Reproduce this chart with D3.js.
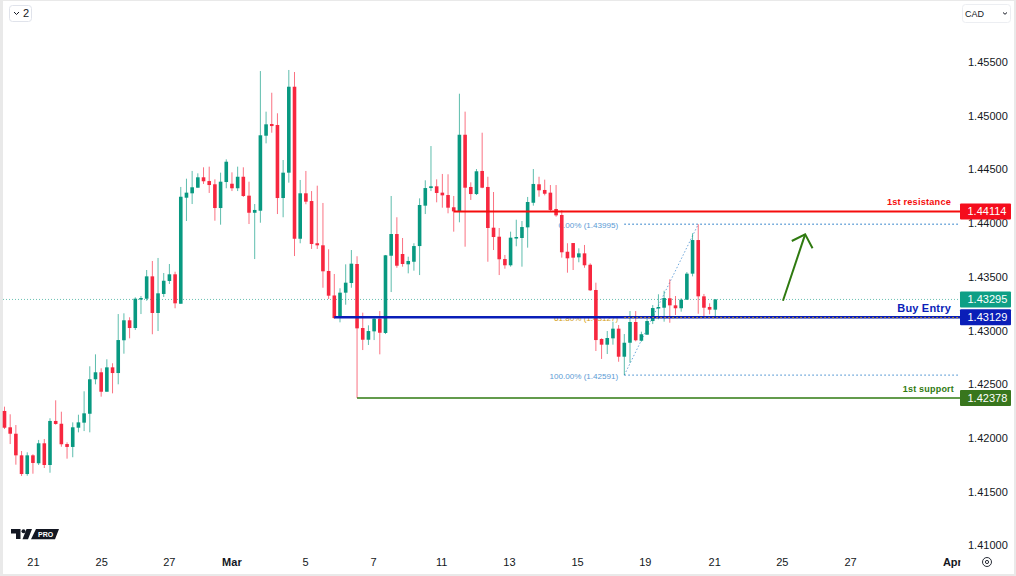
<!DOCTYPE html>
<html><head><meta charset="utf-8">
<script src="https://cdn.jsdelivr.net/npm/d3@7"></script>
<style>
html,body{margin:0;padding:0;background:#fff;overflow:hidden}
svg{display:block}
text{font-family:"Liberation Sans",sans-serif}
</style></head><body>
<svg id="c" width="1016" height="576"></svg>
<script>
const opens=[1.42257,1.42105,1.42045,1.41844,1.41670,1.41844,1.41770,1.41956,1.41754,1.42164,1.42138,1.41949,1.41922,1.42101,1.42148,1.42231,1.42552,1.42617,1.42436,1.42663,
1.42610,1.42915,1.43101,1.43029,1.43299,1.43302,1.43510,1.43169,1.43346,1.43467,1.43529,1.43255,1.44242,1.44283,1.44335,1.44432,1.44397,1.44367,1.44146,1.44388,
1.44372,1.44330,1.44437,1.44261,1.44102,1.44121,1.44819,1.44928,1.44919,1.44239,1.44475,1.45275,1.43860,1.44283,1.44211,1.43818,1.43799,1.43560,1.43332,1.43132,
1.43358,1.43448,1.43625,1.43029,1.42920,1.42998,1.43116,1.42983,1.43702,1.43904,1.43718,1.43622,1.43646,1.43792,1.44168,1.44332,1.44348,1.44289,1.44267,1.44153,
1.44118,1.44828,1.44342,1.44276,1.44491,1.44342,1.43963,1.43879,1.43671,1.43613,1.43870,1.43867,1.43966,1.44195,1.44367,1.44314,1.44289,1.44137,1.44081,1.43739,
1.43820,1.43687,1.43724,1.43618,1.43383,1.42927,1.42874,1.42933,1.43023,1.42762,1.42892,1.43085,1.42911,1.42967,1.43094,1.43215,1.43218,1.43306,1.43240,1.43213,
1.43293,1.43535,1.43848,1.43324,1.43225,1.43200];
const closes=[1.42101,1.42045,1.41844,1.41670,1.41844,1.41773,1.41956,1.41754,1.42164,1.42136,1.41947,1.41922,1.42105,1.42151,1.42235,1.42552,1.42617,1.42436,1.42663,1.42610,
1.42917,1.43101,1.43029,1.43302,1.43308,1.43510,1.43169,1.43352,1.43469,1.43529,1.43259,1.44251,1.44289,1.44339,1.44432,1.44395,1.44360,1.44146,1.44391,1.44577,
1.44330,1.44437,1.44258,1.44102,1.44128,1.44823,1.44925,1.44909,1.44239,1.44475,1.45275,1.43860,1.44283,1.44205,1.43811,1.43799,1.43557,1.43330,1.43122,1.43358,
1.43451,1.43628,1.43026,1.42920,1.43001,1.43116,1.42985,1.43706,1.43904,1.43609,1.43625,1.43653,1.43792,1.44174,1.44332,1.44348,1.44286,1.44264,1.44149,1.44115,
1.44828,1.44335,1.44276,1.44488,1.44335,1.43960,1.43876,1.43669,1.43613,1.43870,1.43876,1.43969,1.44202,1.44370,1.44311,1.44279,1.44128,1.44078,1.43734,1.43678,
1.43684,1.43724,1.43613,1.43380,1.42917,1.42874,1.42936,1.43023,1.42762,1.42892,1.43085,1.42915,1.42971,1.43094,1.43215,1.43225,1.43308,1.43240,1.43213,1.43293,
1.43535,1.43848,1.43324,1.43218,1.43200,1.43295];
const highs=[1.42297,1.42226,1.42126,1.41884,1.41872,1.41854,1.41987,1.41996,1.42189,1.42356,1.42250,1.41965,1.42151,1.42222,1.42440,1.42673,1.42784,1.42654,1.42738,1.42701,
1.43159,1.43166,1.43129,1.43315,1.43327,1.43569,1.43653,1.43681,1.43541,1.43625,1.43553,1.44342,1.44419,1.44491,1.44469,1.44525,1.44531,1.44413,1.44475,1.44599,
1.44478,1.44531,1.44525,1.44391,1.44183,1.45421,1.45043,1.45219,1.45028,1.44593,1.45431,1.45412,1.44407,1.44491,1.44304,1.44354,1.44193,1.43762,1.43532,1.43399,
1.43622,1.43755,1.43697,1.43172,1.43054,1.43129,1.43187,1.43709,1.44258,1.44060,1.43867,1.43693,1.43818,1.44236,1.44404,1.44723,1.44413,1.44463,1.44460,1.44258,
1.45210,1.45043,1.44385,1.44509,1.44847,1.44437,1.44295,1.43960,1.43709,1.43926,1.44037,1.44025,1.44249,1.44509,1.44437,1.44410,1.44360,1.44360,1.44125,1.43818,
1.43820,1.43771,1.43802,1.43631,1.43451,1.42933,1.43001,1.43088,1.43057,1.42973,1.43187,1.43187,1.42995,1.43119,1.43243,1.43343,1.43376,1.43482,1.43327,1.43306,
1.43550,1.43911,1.43995,1.43346,1.43259,1.43299];
const lows=[1.42089,1.41949,1.41757,1.41652,1.41654,1.41673,1.41754,1.41726,1.41682,1.42129,1.41924,1.41813,1.41826,1.42058,1.42070,1.42058,1.42505,1.42390,1.42436,1.42421,
1.42505,1.42790,1.42933,1.43011,1.43159,1.43283,1.42971,1.43001,1.43318,1.43439,1.43213,1.43255,1.44025,1.44183,1.44335,1.44370,1.44286,1.44028,1.43991,1.44330,
1.44304,1.44304,1.44249,1.43997,1.43671,1.44009,1.44748,1.44847,1.44090,1.44060,1.44382,1.43699,1.43818,1.44181,1.43765,1.43765,1.43404,1.43299,1.43113,1.43082,
1.43246,1.43404,1.42378,1.42824,1.42871,1.42917,1.42784,1.42973,1.43364,1.43590,1.43600,1.43538,1.43563,1.43522,1.44090,1.44304,1.44199,1.44149,1.44097,1.43926,
1.44013,1.43786,1.44221,1.44267,1.44330,1.43646,1.43755,1.43522,1.43581,1.43600,1.43790,1.43600,1.43777,1.44168,1.44251,1.44264,1.44118,1.44065,1.43684,1.43544,
1.43569,1.43641,1.43590,1.43374,1.42815,1.42741,1.42787,1.42874,1.42715,1.42591,1.42706,1.42905,1.42902,1.42967,1.43066,1.43110,1.43088,1.43078,1.43150,1.43181,
1.43290,1.43510,1.43162,1.43134,1.43157,1.43134];

const priceTicks=[1.41,1.415,1.42,1.425,1.43,1.435,1.44,1.445,1.45,1.455];
const dateTickIndex=[5,17,28.9,39.9,52.85,64.8,76.8,88.7,100.7,112.6,124.8,136.7,148.7,166.6];
const dateTickLabels=["21","25","27","Mar","5","7","11","13","15","19","21","25","27","Apr"];

const lastPrice=1.43295;
const levels=[
 {name:"1st resistance",price:1.44114,from:79,color:"#f50d0d",width:2,size:9.2,end:951},
 {name:"Buy Entry",price:1.43129,from:58,color:"#0a1eb8",width:2.5,size:11,end:951},
 {name:"1st support",price:1.42378,from:62,color:"#2f7a10",width:1.5,size:9,end:954}];
const fibStart=[109,1.42591], fibEnd=[122,1.43995];
const fibLevels=[
 {label:"0.00% (1.43995)",price:1.43995,color:"#5b9bd5"},
 {label:"61.80% (1.43127)",price:1.43127,color:"#d4a017"},
 {label:"100.00% (1.42591)",price:1.42591,color:"#5b9bd5"}];
const arrowShaft=[[136.9,1.43283],[140.8,1.43901]];
const arrowHead=[[138.45,1.43839],[140.8,1.43901],[142.1,1.43771]];

const svg=d3.select("#c");
const paneRight=960;
const x=d3.scaleLinear().domain([0,125]).range([4.5,715.3]);
const y=d3.scaleLinear().domain([1.41,1.455]).range([546,62.56]);

// chrome
svg.append("rect").attr("width",1016).attr("height",576).attr("fill","#fff");
svg.append("rect").attr("x",0).attr("y",0).attr("width",3).attr("height",576).attr("fill","#e9e9e9");
svg.append("rect").attr("x",1014).attr("y",0).attr("width",2).attr("height",576).attr("fill","#e9e9e9");
svg.append("rect").attr("x",0).attr("y",574).attr("width",1016).attr("height",2).attr("fill","#e9e9e9");
svg.append("rect").attr("x",0).attr("y",0).attr("width",1016).attr("height",1).attr("fill","#e9e9e9");
svg.append("clipPath").attr("id","pane").append("rect").attr("x",0).attr("y",540).attr("width",960.5).attr("height",36);

// last price line
svg.append("line").attr("x1",3).attr("x2",paneRight).attr("y1",y(lastPrice)).attr("y2",y(lastPrice))
 .attr("stroke","#089981").attr("stroke-opacity",.6).attr("stroke-width",1).attr("stroke-dasharray","1 2");

// fib labels + lines below candles
const fibG=svg.append("g");
fibG.selectAll("line").data(fibLevels).join("line")
 .attr("x1",x(fibStart[0])).attr("x2",paneRight)
 .attr("y1",d=>y(d.price)).attr("y2",d=>y(d.price))
 .attr("stroke",d=>d.color).attr("stroke-width",1.4).attr("stroke-dasharray","1.5 2.5");
fibG.selectAll("text").data(fibLevels).join("text")
 .attr("x",x(fibStart[0])-6).attr("y",d=>y(d.price)+3.5)
 .attr("text-anchor","end").attr("font-size",8.1).attr("fill",d=>d.color).text(d=>d.label);
fibG.append("line").attr("x1",x(fibStart[0])).attr("y1",y(fibStart[1])).attr("x2",x(fibEnd[0])).attr("y2",y(fibEnd[1]))
 .attr("stroke","#6fa8dc").attr("stroke-width",1).attr("stroke-dasharray","1.5 2");

// candles
const idx=d3.range(opens.length);
const colorOf=i=>closes[i]>=opens[i]?"#089981":"#f7273f";
const g=svg.append("g");
g.selectAll("line.w").data(idx).join("line").attr("class","w")
 .attr("x1",i=>x(i)).attr("x2",i=>x(i)).attr("y1",i=>y(highs[i])).attr("y2",i=>y(lows[i]))
 .attr("stroke",colorOf).attr("stroke-opacity",.65).attr("stroke-width",1);
g.selectAll("rect").data(idx).join("rect")
 .attr("x",i=>x(i)-1.8).attr("width",3.6)
 .attr("y",i=>y(Math.max(opens[i],closes[i])))
 .attr("height",i=>Math.max(1.5,Math.abs(y(opens[i])-y(closes[i]))))
 .attr("fill",colorOf);

// levels
const lv=svg.append("g");
lv.selectAll("line").data(levels).join("line")
 .attr("x1",d=>x(d.from)).attr("x2",paneRight)
 .attr("y1",d=>y(d.price)).attr("y2",d=>y(d.price))
 .attr("stroke",d=>d.color).attr("stroke-width",d=>d.width);
// gold fib dotted on top of blue line
svg.append("line").attr("x1",x(fibStart[0])).attr("x2",paneRight).attr("y1",y(fibLevels[1].price)).attr("y2",y(fibLevels[1].price))
 .attr("stroke","#d4a017").attr("stroke-width",1).attr("stroke-dasharray","1.5 2.5");

lv.selectAll("text").data(levels).join("text")
 .attr("x",d=>d.end)
 .attr("y",(d,i)=>y(d.price)+(i===1?-5.5:-6))
 .attr("text-anchor","end")
 .attr("font-size",d=>d.size).attr("font-weight",600)
 .attr("letter-spacing",.2)
 .attr("fill",d=>d.color).text(d=>d.name);

// arrow
const ln=d3.line().x(d=>x(d[0])).y(d=>y(d[1]));
svg.append("path").attr("d",ln(arrowShaft)).attr("fill","none").attr("stroke","#2f7a10").attr("stroke-width",2);
svg.append("path").attr("d",ln(arrowHead)).attr("fill","none").attr("stroke","#2f7a10").attr("stroke-width",2);

// axes
const yAxis=d3.axisRight(y).tickValues(priceTicks).tickFormat(d3.format(".5f")).tickSize(0).tickPadding(8);
const ya=svg.append("g").attr("transform",`translate(${paneRight},-0.6)`).call(yAxis);
ya.select(".domain").remove();
ya.selectAll("text").attr("font-size",11).attr("fill","#131722").style("font-family",'"Liberation Sans",sans-serif');

const xAxis=d3.axisBottom(x).tickValues(dateTickIndex).tickFormat((d,i)=>dateTickLabels[i]).tickSize(0).tickPadding(0);
const xclip=svg.append("g").attr("clip-path","url(#pane)");
const xa=xclip.append("g").attr("transform","translate(0,558)").call(xAxis);
xa.select(".domain").remove();
xa.selectAll("text").attr("font-size",11).attr("fill","#131722").style("font-family",'"Liberation Sans",sans-serif')
  .attr("font-weight",(d,i)=>(dateTickLabels[i]==="Mar"||dateTickLabels[i]==="Apr")?700:400);

// price labels
const priceTags=[
 {price:1.44114,color:"#f50d1d"},
 {price:lastPrice,color:"#0e9f85"},
 {price:1.43129,color:"#0a1eb8"},
 {price:1.42378,color:"#38761d"}];
const tg=svg.append("g").selectAll("g").data(priceTags).join("g")
 .attr("transform",d=>`translate(${paneRight},${y(d.price)})`);
tg.append("rect").attr("x",0).attr("y",-8).attr("width",51).attr("height",16).attr("rx",1).attr("fill",d=>d.color);
tg.append("text").attr("x",7.5).attr("y",4).attr("font-size",11).attr("fill","#fff").text(d=>d3.format(".5f")(d.price));

// top-left button
svg.append("rect").attr("x",9.5).attr("y",5.5).attr("width",22).attr("height",16).attr("rx",3).attr("fill","#fff").attr("stroke","#e0e3eb");
svg.append("path").attr("d","M14 12l2.5 2.5L19 12").attr("fill","none").attr("stroke","#131722").attr("stroke-width",1);
svg.append("text").attr("x",23).attr("y",17).attr("font-size",11).attr("fill","#131722").text("2");
// top-right button
svg.append("rect").attr("x",962.5).attr("y",4.5).attr("width",48).attr("height",18).attr("rx",3).attr("fill","#fff").attr("stroke","#eceef2");
svg.append("text").attr("x",965).attr("y",16.5).attr("font-size",9).attr("fill","#131722").text("CAD");
svg.append("path").attr("d","M1003 12.5l2 1.8 2-1.8").attr("fill","none").attr("stroke","#131722").attr("stroke-width",1);
// settings icon
svg.append("circle").attr("cx",987).attr("cy",562).attr("r",4.5).attr("fill","none").attr("stroke","#131722").attr("stroke-width",.9);
svg.append("circle").attr("cx",987).attr("cy",562).attr("r",1.6).attr("fill","none").attr("stroke","#131722").attr("stroke-width",.9);

// logo
svg.append("path").attr("fill","#131722").attr("d","M11 529h9.5v10H16v-5.5H11zM26.5 529h5.5l-4 10.3h-5.5zM36 529h23l-4 10.3H31z");
svg.append("circle").attr("cx",23.5).attr("cy",531.3).attr("r",2).attr("fill","#131722");
svg.append("text").attr("x",38).attr("y",537).attr("font-size",7).attr("font-weight",700).attr("fill","#fff").text("PRO");
</script>
</body></html>
